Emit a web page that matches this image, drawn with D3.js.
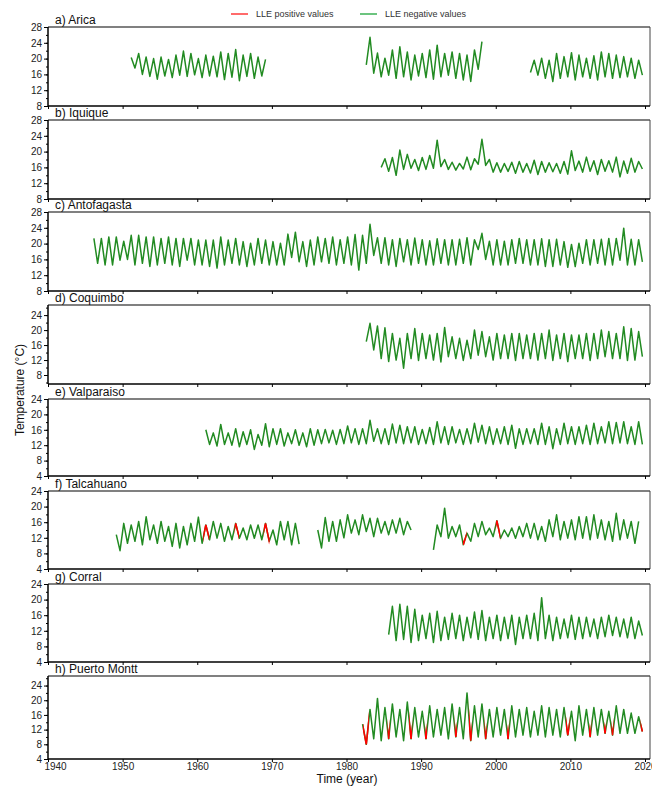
<!DOCTYPE html>
<html>
<head>
<meta charset="utf-8">
<script src="https://cdnjs.cloudflare.com/ajax/libs/d3/7.8.5/d3.min.js"></script>
<style>
  body { margin: 0; background: #fff; }
  text { font-family: "Liberation Sans", Arial, sans-serif; }
</style>
</head>
<body>
<script>
// tick labels
var xTicks = [1940, 1950, 1960, 1970, 1980, 1990, 2000, 2010, 2020];
var ticks8to28 = [8, 12, 16, 20, 24, 28];
var ticks8to24 = [8, 12, 16, 20, 24];
var ticks4to24 = [4, 8, 12, 16, 20, 24];

// each segment: first year, then summer peak and winter trough per year
var aricaStart = [1951, 1982, 2004];
var aricaPeak = [
  [20.3, 21.3, 20.4, 20.0, 20.4, 19.8, 20.9, 21.9, 21.3, 20.0, 20.9, 20.6, 21.7, 21.3, 22.3, 20.9, 21.3, 20.4, 19.8],
  [null, 25.4, 21.4, 20.1, 22.2, 23.0, 21.7, 20.9, 21.3, 22.2, 23.4, 21.3, 21.7, 21.3, 20.9, 22.2, 24.3],
  [null, 19.6, 20.1, 19.6, 21.3, 20.5, 21.5, 20.9, 20.1, 20.7, 21.7, 21.3, 20.9, 20.5, 20.1, 19.6]
];
var aricaTrough = [
  [17.6, 16.0, 15.5, 14.8, 15.6, 15.2, 15.8, 15.5, 15.9, 15.2, 15.6, 15.4, 14.7, 15.3, 14.4, 15.5, 15.0, 15.6, null],
  [18.4, 16.3, 15.4, 15.8, 15.0, 15.4, 14.6, 15.6, 15.2, 14.8, 15.4, 15.8, 15.0, 14.6, 14.2, 17.3, null],
  [16.5, 15.8, 15.0, 14.2, 15.0, 15.4, 14.6, 15.4, 15.0, 14.6, 15.4, 15.0, 15.2, 15.4, 15.0, 15.8]
];
var aricaPos = [];

var iquiqueStart = [1984];
var iquiquePeak = [[null, 18.2, 18.5, 20.4, 19.3, 18.0, 18.5, 19.0, 22.9, 18.0, 17.3, 17.0, 18.6, 18.2, 23.1, 18.0, 17.2, 17.0,
  17.3, 17.5, 17.0, 17.8, 17.5, 17.2, 17.0, 17.5, 20.2, 17.6, 18.6, 17.7, 18.0, 17.7, 18.6, 17.6, 18.3, 17.5]];
var iquiqueTrough = [[16.0, 15.0, 14.0, 15.5, 15.8, 15.2, 15.5, 15.8, 16.2, 15.5, 15.3, 15.6, 15.4, 16.8, 16.5, 14.8, 14.8, 15.0,
  14.5, 14.8, 14.6, 14.2, 14.8, 14.9, 14.5, 14.3, 15.2, 14.8, 15.0, 14.2, 15.0, 14.8, 13.6, 14.5, 14.8, 15.6]];
var iquiquePos = [];

var antofagastaStart = [1946];
var antofagastaPeak = [[21.3, 21.3, 21.7, 21.7, 20.6, 22.1, 22.1, 21.7, 21.7, 21.3, 21.7, 21.3, 21.3, 21.3, 20.9, 20.9, 20.9, 21.7, 20.9, 21.3,
  20.5, 20.1, 21.3, 20.9, 20.5, 20.1, 22.4, 22.9, 20.5, 20.9, 21.7, 21.3, 21.7, 21.0, 21.7, 22.3, 22.1, 24.9, 21.5, 21.5,
  21.0, 21.3, 21.0, 21.4, 21.0, 20.7, 21.2, 21.0, 21.0, 21.1, 21.5, 21.0, 22.6, 20.6, 21.0, 20.6, 21.0, 21.3, 21.0, 21.0,
  21.2, 21.0, 21.1, 20.5, 19.8, 20.1, 21.0, 21.0, 21.1, 21.3, 21.3, 23.9, 21.1, 21.0]];
var antofagastaTrough = [[15.0, 14.6, 14.6, 15.8, 16.0, 14.6, 15.0, 14.2, 14.6, 15.0, 14.6, 14.2, 15.8, 14.6, 14.6, 14.2, 13.8, 14.6, 15.0, 14.6,
  14.2, 14.6, 15.0, 14.6, 14.6, 14.6, 16.5, 15.4, 14.2, 14.6, 15.4, 15.0, 14.6, 15.0, 14.6, 13.3, 15.0, 17.0, 15.0, 14.6,
  14.2, 15.4, 14.6, 15.0, 14.6, 14.6, 15.0, 14.6, 14.6, 15.0, 14.6, 18.5, 16.0, 14.6, 14.6, 14.6, 15.0, 15.0, 14.6, 14.6,
  14.2, 14.2, 14.6, 14.0, 14.2, 15.0, 14.6, 15.0, 14.6, 14.6, 15.8, 14.6, 14.6, 15.4]];
var antofagastaPos = [];

var coquimboStart = [1982];
var coquimboPeak = [[null, 21.8, 21.1, 20.6, 19.1, 17.8, 19.1, 20.4, 19.1, 18.7, 19.1, 20.7, 18.2, 17.8, 17.3, 20.0, 19.6, 18.2, 19.1,
  18.7, 19.1, 19.1, 18.7, 19.1, 19.1, 20.0, 18.7, 19.1, 18.7, 18.7, 19.1, 19.1, 20.0, 19.6, 19.1, 20.9, 20.4, 19.6]];
var coquimboTrough = [[16.9, 14.7, 12.4, 11.6, 12.0, 9.8, 12.4, 11.9, 12.4, 12.0, 11.5, 12.9, 12.4, 11.9, 12.4, 13.3, 12.9, 12.0, 12.4,
  12.4, 11.9, 12.4, 12.4, 12.0, 12.4, 11.9, 12.4, 11.6, 12.4, 12.4, 11.9, 12.4, 12.9, 12.4, 12.4, 11.9, 12.0, 12.9]];
var coquimboPos = [];

var valparaisoStart = [1961];
var valparaisoPeak = [[16.0, 15.2, 17.4, 15.2, 16.3, 15.5, 16.0, 14.8, 17.6, 16.3, 16.3, 15.2, 16.0, 15.2, 16.3, 16.0, 16.1, 15.9, 16.1, 17.0,
  16.3, 16.3, 18.5, 16.3, 16.3, 17.5, 17.2, 16.8, 16.8, 16.1, 16.6, 18.1, 16.8, 16.8, 16.1, 16.3, 17.7, 17.2, 16.8, 16.3,
  16.8, 17.2, 16.3, 16.3, 16.3, 17.7, 16.8, 16.3, 17.7, 16.8, 16.8, 17.2, 17.7, 16.8, 18.1, 17.9, 18.1, 16.8, 18.1]];
var valparaisoTrough = [[12.2, 11.8, 12.2, 12.0, 11.6, 12.2, 10.9, 12.0, 11.6, 12.2, 11.8, 12.4, 12.0, 11.6, 12.0, 12.4, 12.6, 12.2, 12.4, 12.6,
  12.2, 12.4, 13.0, 12.4, 12.2, 12.6, 12.4, 12.6, 12.2, 12.4, 12.2, 12.6, 12.2, 12.6, 12.2, 12.4, 12.8, 12.4, 12.2, 12.4,
  12.2, 11.2, 12.2, 12.4, 12.2, 12.2, 11.1, 12.2, 12.4, 12.2, 12.4, 12.2, 12.4, 12.6, 12.4, 12.6, 12.4, 12.2, 12.2]];
var valparaisoPos = [];

var talcahuanoStart = [1949, 1976, 1991];
var talcahuanoPeak = [
  [12.8, 15.7, 15.3, 16.2, 17.4, 15.3, 16.2, 14.9, 15.7, 14.9, 15.7, 17.3, 15.3, 16.2, 15.7, 14.9, 15.7, 14.5, 15.3, 15.3, 15.7, 14.0, 16.2, 16.2, 15.7],
  [14.0, 17.2, 16.2, 16.6, 17.9, 16.6, 17.9, 17.0, 17.0, 16.2, 16.6, 17.0, 16.2],
  [null, 15.3, 19.6, 14.9, 15.3, 13.2, 15.7, 16.2, 14.5, 16.4, 14.0, 14.5, 14.9, 15.7, 15.7, 14.9, 16.6, 17.9, 16.2, 16.6, 17.4, 17.4, 17.9, 16.6, 16.2, 18.3, 16.6, 16.2, 16.2]
];
var talcahuanoTrough = [
  [8.7, 10.6, 11.1, 10.2, 11.5, 10.6, 11.1, 9.8, 9.4, 10.2, 11.1, 10.6, 11.5, 11.9, 11.1, 11.5, 11.9, 11.5, 11.9, 11.5, 11.1, 10.2, 11.5, 10.2, 10.4],
  [9.4, 11.1, 11.1, 12.0, 13.2, 12.8, 13.6, 12.3, 13.2, 12.8, 13.2, 12.8, 14.0],
  [8.9, 12.3, 11.9, 12.3, 10.2, 11.1, 12.3, 12.8, 12.3, 11.9, 12.3, 11.9, 12.3, 11.9, 11.5, 11.1, 12.3, 11.5, 11.9, 11.5, 11.9, 11.5, 11.9, 11.5, 11.1, 11.5, 11.9, 10.6, null]
];
var talcahuanoPos = [[1960.8, 1961.6], [1965.0, 1965.6], [1968.9, 1969.7], [1995.6, 1996.1], [2000.0, 2000.6]];

var corralStart = [1985];
var corralPeak = [[null, 18.3, 18.8, 18.3, 17.5, 16.0, 16.5, 17.0, 15.5, 16.5, 16.0, 15.5, 16.8, 17.2, 15.5, 16.0, 15.5, 16.0,
  15.5, 16.0, 16.5, 20.5, 16.0, 15.5, 15.0, 16.0, 15.5, 15.5, 15.0, 15.5, 16.0, 15.5, 15.0, 15.5, 14.5]];
var corralTrough = [[11.0, 9.5, 9.8, 9.0, 9.5, 10.0, 9.0, 9.5, 9.8, 10.0, 9.5, 10.2, 9.8, 9.5, 10.0, 9.5, 10.0, 8.5,
  10.0, 10.0, 9.5, 10.0, 9.5, 10.0, 10.2, 9.8, 10.0, 10.5, 10.0, 10.5, 10.8, 10.5, 10.2, 10.0, 10.8]];
var corralPos = [];

var puertoMonttStart = [1982];
var puertoMonttPeak = [[13.5, 17.5, 20.5, 18.0, 19.0, 17.5, 19.5, 18.0, 17.0, 18.5, 17.5, 18.0, 19.0, 18.0, 22.0, 18.5, 19.0, 17.5, 18.0,
  17.5, 18.5, 17.5, 18.0, 17.0, 18.5, 18.0, 17.5, 18.0, 17.0, 18.5, 17.5, 18.0, 17.5, 17.0, 18.5, 17.5, 16.5, 15.5]];
var puertoMonttTrough = [[8.0, 9.5, 9.0, 9.5, 10.0, 9.0, 9.5, 10.0, 9.5, 10.0, 10.5, 9.5, 10.0, 9.5, 9.0, 10.0, 9.5, 10.0, 10.5,
  9.5, 10.0, 10.5, 10.0, 10.5, 10.0, 10.5, 10.0, 10.5, 9.0, 10.5, 10.0, 10.5, 11.0, 10.5, 11.0, 11.0, 11.0, 11.5]];
var puertoMonttPos = [[1982.2, 1983.0], [1985.5, 1985.8], [1988.4, 1988.8], [1990.5, 1990.8], [1994.5, 1994.8],
  [1996.4, 1996.8], [1998.5, 1998.8], [2001.5, 2001.8], [2009.4, 2009.9], [2012.5, 2012.8], [2014.5, 2014.8],
  [2015.5, 2015.8], [2019.4, 2019.8]];

var stations = [
  {name: "a) Arica", start: aricaStart, peak: aricaPeak, trough: aricaTrough, pos: aricaPos, dom: [8, 28], ticks: ticks8to28},
  {name: "b) Iquique", start: iquiqueStart, peak: iquiquePeak, trough: iquiqueTrough, pos: iquiquePos, dom: [8, 28], ticks: ticks8to28},
  {name: "c) Antofagasta", start: antofagastaStart, peak: antofagastaPeak, trough: antofagastaTrough, pos: antofagastaPos, dom: [8, 28], ticks: ticks8to28},
  {name: "d) Coquimbo", start: coquimboStart, peak: coquimboPeak, trough: coquimboTrough, pos: coquimboPos, dom: [5.6, 26.7], ticks: ticks8to24},
  {name: "e) Valparaiso", start: valparaisoStart, peak: valparaisoPeak, trough: valparaisoTrough, pos: valparaisoPos, dom: [4, 24], ticks: ticks4to24},
  {name: "f) Talcahuano", start: talcahuanoStart, peak: talcahuanoPeak, trough: talcahuanoTrough, pos: talcahuanoPos, dom: [4, 24], ticks: ticks4to24},
  {name: "g) Corral", start: corralStart, peak: corralPeak, trough: corralTrough, pos: corralPos, dom: [4, 24], ticks: ticks4to24},
  {name: "h) Puerto Montt", start: puertoMonttStart, peak: puertoMonttPeak, trough: puertoMonttTrough, pos: puertoMonttPos, dom: [4, 26.6], ticks: ticks4to24}
];

var panelTop = [27, 120, 212, 305, 399, 491, 584, 676];
var panelBot = [106, 199, 291, 384, 476, 569, 662, 759];
var left = 48, right = 650;
var green = "#228b22", red = "#ff0000";

var svg = d3.select("body").append("svg")
    .attr("width", 652)
    .attr("height", 786);

var x = d3.scaleLinear().domain([1940, 2020]).range([left, 645]);

function segPoints(st, k) {
  var pts = [];
  st.peak[k].forEach(function(v, i) {
    pts.push({t: st.start[k] + i + 0.15, v: v});
    pts.push({t: st.start[k] + i + 0.65, v: st.trough[k][i]});
  });
  return pts;
}

stations.forEach(function(st, i) {
  var top = panelTop[i], bot = panelBot[i];
  var y = d3.scaleLinear().domain(st.dom).range([bot, top]);
  var g = svg.append("g");

  var line = d3.line()
      .defined(function(d) { return d.v != null; })
      .x(function(d) { return x(d.t); })
      .y(function(d) { return y(d.v); });

  // clip for LLE positive stretches
  var clipId = "pos" + i;
  g.append("clipPath").attr("id", clipId)
    .selectAll("rect").data(st.pos).enter().append("rect")
      .attr("x", function(d) { return x(d[0]); })
      .attr("width", function(d) { return x(d[1]) - x(d[0]); })
      .attr("y", top)
      .attr("height", bot - top);

  st.start.forEach(function(s, k) {
    var pts = segPoints(st, k);
    g.append("path").datum(pts)
      .attr("d", line)
      .attr("fill", "none")
      .attr("stroke", green)
      .attr("stroke-width", 1.5)
      .attr("stroke-linejoin", "round");
    if (st.pos.length) {
      g.append("path").datum(pts)
        .attr("d", line)
        .attr("fill", "none")
        .attr("stroke", red)
        .attr("stroke-width", 1.6)
        .attr("clip-path", "url(#" + clipId + ")");
    }
  });

  // frame
  g.append("line").attr("x1", left).attr("x2", right).attr("y1", top).attr("y2", top)
    .attr("stroke", "#808080").attr("stroke-width", 2);
  g.append("line").attr("x1", right).attr("x2", right).attr("y1", top).attr("y2", bot)
    .attr("stroke", "#444").attr("stroke-width", 1);
  g.append("line").attr("x1", left).attr("x2", right).attr("y1", bot).attr("y2", bot)
    .attr("stroke", "#000").attr("stroke-width", 1.5);
  g.append("line").attr("x1", left).attr("x2", left).attr("y1", top).attr("y2", bot)
    .attr("stroke", "#000").attr("stroke-width", 1.5);

  // y axis
  var minor = d3.range(Math.ceil(st.dom[0] / 2) * 2, st.dom[1] + 0.01, 2);
  var ya = g.append("g").attr("transform", "translate(" + left + ",0)")
    .call(d3.axisLeft(y).tickValues(minor).tickSize(2).tickFormat(""));
  ya.select(".domain").remove();
  var yb = g.append("g").attr("transform", "translate(" + left + ",0)")
    .call(d3.axisLeft(y).tickValues(st.ticks).tickSize(4).tickPadding(2));
  yb.select(".domain").remove();
  yb.selectAll("text").attr("font-size", 10).attr("fill", "#222")
    .style("font-family", "Liberation Sans, Arial, sans-serif");

  // x axis
  var xa = g.append("g").attr("transform", "translate(0," + bot + ")")
    .call(d3.axisBottom(x).tickValues(xTicks).tickSize(3).tickPadding(1)
      .tickFormat(i === stations.length - 1 ? d3.format("d") : ""));
  xa.select(".domain").remove();
  xa.selectAll("text").attr("font-size", 10).attr("fill", "#222")
    .style("font-family", "Liberation Sans, Arial, sans-serif")
    .attr("dx", function(d) { return d === 1940 ? 7 : 0; });

  g.append("text")
    .attr("x", 55).attr("y", top - 3)
    .attr("font-size", 12).attr("fill", "#111")
    .text(st.name);
});

// legend
var legend = [
  {label: "LLE positive values", color: "#ff6b6b", x: 231},
  {label: "LLE negative values", color: "#6cc47f", x: 360}
];
legend.forEach(function(l) {
  svg.append("line").attr("x1", l.x).attr("x2", l.x + 17).attr("y1", 14).attr("y2", 14)
    .attr("stroke", l.color).attr("stroke-width", 2);
  svg.append("text").attr("x", l.x + 25).attr("y", 17)
    .attr("font-size", 9).attr("fill", "#333").text(l.label);
});

svg.append("text")
  .attr("transform", "translate(24,390) rotate(-90)")
  .attr("text-anchor", "middle")
  .attr("font-size", 12).attr("fill", "#111")
  .text("Temperature (°C)");

svg.append("text")
  .attr("x", 347).attr("y", 783)
  .attr("text-anchor", "middle")
  .attr("font-size", 12).attr("fill", "#111")
  .text("Time (year)");
</script>
</body>
</html>
